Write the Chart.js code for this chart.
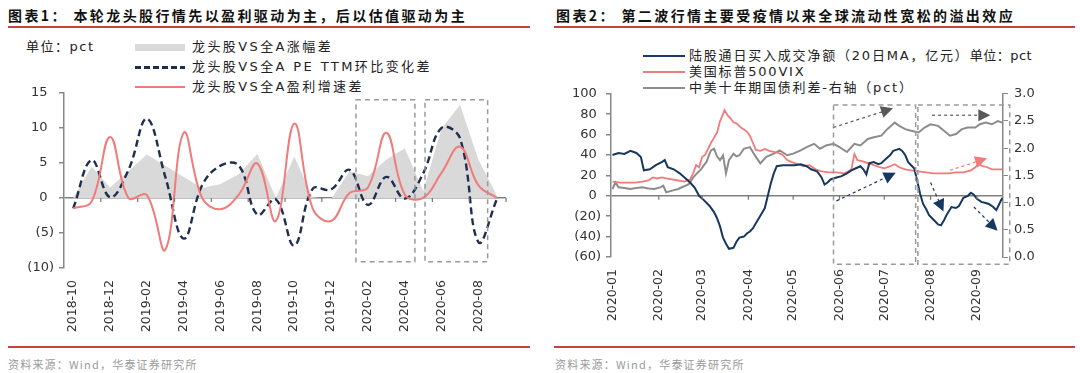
<!DOCTYPE html>
<html>
<head>
<meta charset="utf-8">
<script src="https://cdn.jsdelivr.net/npm/chart.js@4.4.1/dist/chart.umd.min.js"></script>
<style>
  body { margin: 0; width: 1080px; height: 373px; background: #fff; position: relative; overflow: hidden; }
  .t { position: absolute; white-space: nowrap; }
  .title { top: 5px; font-family: "Noto Sans CJK SC"; font-weight: bold; font-size: 14px; letter-spacing: 2.4px; color: #111; }
  .rule { position: absolute; height: 2px; background: #c0443f; }
  .src { top: 356px; font-family: "Noto Sans CJK SC"; font-size: 11px; letter-spacing: 1.2px; color: #9a9a9a; }
  .leg { font-family: "DejaVu Sans", "Noto Sans CJK SC"; font-size: 13px; letter-spacing: 2.4px; color: #222; line-height: 16px; }
  .leg2 { letter-spacing: 1.8px; }
  .sw { position: absolute; }
  canvas { position: absolute; }
</style>
</head>
<body>

<div class="t title" style="left:8px;">图表1：&nbsp;本轮龙头股行情先以盈利驱动为主，后以估值驱动为主</div>
<div class="rule" style="left:8px; width:522px; top:26px;"></div>
<div class="t title" style="left:556px;">图表2：&nbsp;第二波行情主要受疫情以来全球流动性宽松的溢出效应</div>
<div class="rule" style="left:554px; width:521px; top:26px;"></div>

<div class="t leg" style="left:26px; top:39px; letter-spacing:1.5px;">单位：pct</div>
<div class="sw" style="left:135px; top:44px; width:50px; height:7px; background:#d9d9d9;"></div>
<div class="t leg" style="left:192px; top:39px;">龙头股VS全A涨幅差</div>
<div class="sw" style="left:135px; top:66px; width:50px; height:2.5px; background:repeating-linear-gradient(90deg,#1f2d4e 0 6px,transparent 6px 9px);"></div>
<div class="t leg" style="left:192px; top:59px;">龙头股VS全A PE TTM环比变化差</div>
<div class="sw" style="left:135px; top:86px; width:50px; height:2px; background:#f07b7b;"></div>
<div class="t leg" style="left:192px; top:79px;">龙头股VS全A盈利增速差</div>

<div class="sw" style="left:643px; top:55px; width:42px; height:2px; background:#1a3a6b;"></div>
<div class="t leg leg2" style="left:689px; top:48px;">陆股通日买入成交净额（20日MA，亿元）<span style="letter-spacing:0.5px;">单位：pct</span></div>
<div class="sw" style="left:643px; top:71px; width:42px; height:2px; background:#f07b7b;"></div>
<div class="t leg leg2" style="left:689px; top:64px;">美国标普500VIX</div>
<div class="sw" style="left:643px; top:87px; width:42px; height:2px; background:#8c8c8c;"></div>
<div class="t leg leg2" style="left:689px; top:80px;">中美十年期国债利差-右轴（pct）</div>

<canvas id="left" style="left:0px; top:80px; width:516px; height:258px;"></canvas>
<canvas id="right" style="left:540px; top:80px; width:503px; height:247px;"></canvas>

<div class="rule" style="left:8px; width:522px; top:346px;"></div>
<div class="rule" style="left:554px; width:521px; top:346px;"></div>
<div class="t src" style="left:8px;">资料来源：Wind，华泰证券研究所</div>
<div class="t src" style="left:555px;">资料来源：Wind，华泰证券研究所</div>

<script>
// ---- chart 1: monthly, 2018-10 .. 2020-09
const months = ['2018-10','2018-11','2018-12','2019-01','2019-02','2019-03','2019-04','2019-05',
  '2019-06','2019-07','2019-08','2019-09','2019-10','2019-11','2019-12','2020-01','2020-02','2020-03',
  '2020-04','2020-05','2020-06','2020-07','2020-08','2020-09'];
const gainDiff = [0, 4.5, 1.5, 3.8, 6.2, 4.6, 3.0, 1.4, 2.0, 3.4, 6.3, 0, 5.9, 0.1, -0.2, 3.8, 3.1, 5.5, 7.1, 1.0, 9.9, 13.3, 5.5, 0.3];
const peDiff = [-1.5, 5.4, 0.1, 4.0, 11.3, 3.0, -5.8, 1.8, 4.6, 4.6, -2.4, -0.2, -6.8, 1.3, 1.2, 4.0, -1.0, 3.0, -0.1, 3.5, 10.0, 8.5, -6.3, -0.2];
const earnDiff = [-1.5, -0.5, 8.7, 0, 0.4, -7.4, 9.3, 0, -1.6, 0.5, 4.9, -3.3, 10.6, -1.5, -3.3, 0.7, 1.5, 9.3, 0.5, 0.0, 3.6, 7.3, 1.8, 0];

// ---- chart 2: day of 2020 -> value
const monthStarts = [0, 31, 60, 91, 121, 152, 182, 213, 244];
const monthLabels = ['2020-01','2020-02','2020-03','2020-04','2020-05','2020-06','2020-07','2020-08','2020-09'];

const flowDays = [0,4,8,12,16,19,21,25,29,33,35,37,41,45,49,52,55,58,61,65,68,70,72,74,76,78,81,83,85,88,90,92,94,96,98,100,102,104,106,108,110,114,118,122,126,130,133,137,140,142,144,146,150,153,157,160,163,166,168,170,172,175,178,180,183,186,188,190,192,194,196,198,200,202,204,206,208,210,212,214,216,218,220,222,224,227,230,232,235,238,240,242,244,247,250,252,255,257,259,261];
const flowVals = [40,42,41,44,42,38,25,26,30,33,35,28,26,22,17,13,8,0,-4,-10,-16,-22,-30,-41,-47,-52,-51,-45,-41,-40,-37,-35,-32,-27,-22,-17,-12,0,12,22,29,30,30,30,31,29,26,24,18,11,13,16,18,19,22,25,27,29,26,21,32,33,31,32,36,40,44,45,46,44,40,33,30,27,15,2,-8,-13,-19,-22,-25,-28,-29,-24,-18,-11,-12,-10,-2,0,3,1,-3,-6,-7,-8,-11,-14,-8,-2];

const vixDays = [0,5,10,15,20,24,27,30,33,36,40,44,48,52,54,56,58,60,62,64,66,68,70,72,74,75,77,79,81,83,86,88,90,92,94,96,99,102,105,108,111,114,117,120,124,128,132,136,140,145,150,155,158,160,162,164,167,171,175,179,182,186,189,192,196,200,205,210,215,220,225,230,235,240,243,245,248,251,254,258,261];
const vixVals = [14,13,13,13,14,15,18,17,18,17,16,15,14,16,22,30,28,38,40,46,52,57,62,73,80,84,79,76,72,71,67,65,63,59,52,45,44,46,44,43,42,40,35,33,31,29,30,26,24,23,23,22,24,26,41,35,34,32,30,28,27,29,31,28,26,25,24,23,22,22,22,23,23,25,28,31,29,28,26,26,26];

const spreadDays = [0,2,4,8,12,16,20,24,28,32,34,36,40,44,48,51,54,57,59,61,63,65,66,68,70,72,74,76,78,81,83,85,88,92,96,99,103,108,112,117,121,126,130,135,139,143,148,152,157,162,166,171,175,180,184,187,189,192,196,200,205,209,213,218,222,226,230,234,238,243,246,250,254,258,261];
const spreadVals = [1.25,1.37,1.28,1.27,1.25,1.27,1.28,1.26,1.25,1.28,1.31,1.19,1.22,1.25,1.30,1.34,1.46,1.55,1.60,1.68,1.75,1.90,1.96,1.99,1.85,1.78,1.87,1.54,1.78,1.90,1.85,1.87,1.99,2.02,1.84,1.72,1.84,1.90,1.96,1.87,1.90,1.96,2.02,2.08,1.99,2.05,2.08,2.02,1.93,2.08,2.05,2.17,2.20,2.23,2.35,2.42,2.47,2.41,2.35,2.32,2.29,2.38,2.44,2.41,2.32,2.23,2.26,2.35,2.38,2.38,2.44,2.47,2.44,2.50,2.47];

const pairs = (xs, ys) => xs.map((x, i) => ({ x: x, y: ys[i] }));
// accounting style: negatives in brackets, positives padded so digits line up
const paren = v => v < 0 ? '(' + (-v) + ')' : v + '\u2002';

Chart.defaults.font.family = '"DejaVu Sans", "Liberation Sans", sans-serif';
Chart.defaults.font.size = 13;
Chart.defaults.color = '#333';
Chart.defaults.animation = false;

function dashedBox(ctx, x1, y1, x2, y2) {
  ctx.save();
  ctx.strokeStyle = '#9a9a9a';
  ctx.lineWidth = 1.5;
  ctx.setLineDash([5, 4]);
  ctx.strokeRect(x1, y1, x2 - x1, y2 - y1);
  ctx.restore();
}

function arrow(ctx, x1, y1, x2, y2, color) {
  const a = Math.atan2(y2 - y1, x2 - x1);
  ctx.save();
  ctx.strokeStyle = color;
  ctx.fillStyle = color;
  ctx.lineWidth = 1.2;
  ctx.setLineDash([3, 3]);
  ctx.beginPath(); ctx.moveTo(x1, y1); ctx.lineTo(x2, y2); ctx.stroke();
  ctx.setLineDash([]);
  ctx.translate(x2, y2); ctx.rotate(a);
  ctx.beginPath(); ctx.moveTo(6, 0); ctx.lineTo(-6, -6); ctx.lineTo(-6, 6); ctx.closePath(); ctx.fill();
  ctx.restore();
}

// ticks hanging from the zero line + highlight boxes
const leftDeco = {
  id: 'leftDeco',
  afterDatasetsDraw(chart) {
    const { ctx, scales: { x, y } } = chart;
    const y0 = y.getPixelForValue(0);
    const half = (x.getPixelForValue(1) - x.getPixelForValue(0)) / 2;
    ctx.save();
    ctx.strokeStyle = '#777';
    ctx.lineWidth = 1.2;
    for (let i = 2; i <= months.length; i += 2) {
      const px = x.getPixelForValue(i) - half;
      ctx.beginPath(); ctx.moveTo(px, y0); ctx.lineTo(px, y0 + 4); ctx.stroke();
    }
    ctx.restore();
    dashedBox(ctx, x.getPixelForValue(15.35), y.getPixelForValue(14), x.getPixelForValue(18.55), y.getPixelForValue(-9.1));
    dashedBox(ctx, x.getPixelForValue(19.1), y.getPixelForValue(14), x.getPixelForValue(22.5), y.getPixelForValue(-9.1));
  }
};

const rightDeco = {
  id: 'rightDeco',
  afterDatasetsDraw(chart) {
    const { ctx, scales: { x, y } } = chart;
    const y0 = y.getPixelForValue(0);
    ctx.save();
    ctx.strokeStyle = '#777';
    ctx.lineWidth = 1.2;
    monthStarts.slice(1).forEach(d => {
      const px = x.getPixelForValue(d);
      ctx.beginPath(); ctx.moveTo(px, y0); ctx.lineTo(px, y0 + 4); ctx.stroke();
    });
    ctx.restore();
    dashedBox(ctx, x.getPixelForValue(148), y.getPixelForValue(89), x.getPixelForValue(203), y.getPixelForValue(-67));
    dashedBox(ctx, x.getPixelForValue(204.5), y.getPixelForValue(89), x.getPixelForValue(266), y.getPixelForValue(-67));
    const P = (d, v) => [x.getPixelForValue(d), y.getPixelForValue(v)];
    const seg = (a, b, c) => arrow(ctx, ...P(a[0], a[1]), ...P(b[0], b[1]), c);
    seg([148, 67], [184, 84], '#595959');
    seg([214, 79], [249, 79], '#595959');
    seg([150, -5], [186, 20], '#17375e');
    seg([213, 13], [220, -10], '#17375e');
    seg([242, -11], [255, -30], '#17375e');
    seg([226, 25], [247, 35], '#f07b7b');
  }
};

new Chart(document.getElementById('left'), {
  type: 'line',
  data: {
    labels: months,
    datasets: [
      { label: '龙头股VS全A盈利增速差', data: earnDiff, borderColor: '#f07b7b', borderWidth: 2, pointRadius: 0, tension: 0.4, order: 1 },
      { label: '龙头股VS全A PE TTM环比变化差', data: peDiff, borderColor: '#1f2d4e', borderWidth: 2.4, borderDash: [7, 4], pointRadius: 0, tension: 0.4, order: 2 },
      { label: '龙头股VS全A涨幅差', data: gainDiff, borderWidth: 0, backgroundColor: '#d9d9d9', fill: 'origin', pointRadius: 0, tension: 0, order: 3 }
    ]
  },
  options: {
    responsive: false,
    layout: { padding: { top: 9, right: 7, bottom: 0, left: 0 } },
    plugins: { legend: { display: false }, tooltip: { enabled: false } },
    scales: {
      x: {
        offset: true,
        grid: { display: false },
        border: { display: false },
        ticks: {
          autoSkip: false, minRotation: 90, maxRotation: 90, font: { size: 12.5 }, padding: 4,
          callback: function (v, i) { return i % 2 === 0 ? months[i] : ''; }
        },
        afterFit: s => { s.height = 70; }
      },
      y: {
        min: -10, max: 15,
        ticks: { stepSize: 5, padding: 5, callback: paren },
        grid: { color: c => c.tick && c.tick.value === 0 ? '#7f7f7f' : 'transparent', lineWidth: 1.5, tickColor: '#888', tickLength: 5 },
        border: { color: '#888', width: 1.5 },
        afterFit: s => { s.width = 64; }
      }
    }
  },
  plugins: [leftDeco]
});

new Chart(document.getElementById('right'), {
  type: 'line',
  data: {
    datasets: [
      { label: '陆股通日买入成交净额（20日MA，亿元）', data: pairs(flowDays, flowVals), borderColor: '#17375e', borderWidth: 2, pointRadius: 0, yAxisID: 'y' },
      { label: '美国标普500VIX', data: pairs(vixDays, vixVals), borderColor: '#f07b7b', borderWidth: 1.8, pointRadius: 0, yAxisID: 'y' },
      { label: '中美十年期国债利差-右轴（pct）', data: pairs(spreadDays, spreadVals), borderColor: '#8c8c8c', borderWidth: 2, pointRadius: 0, yAxisID: 'y1' }
    ]
  },
  options: {
    responsive: false,
    layout: { padding: { top: 8, right: 0, bottom: 0, left: 0 } },
    plugins: { legend: { display: false }, tooltip: { enabled: false } },
    scales: {
      x: {
        type: 'linear', min: -1, max: 261.5,
        grid: { display: false },
        border: { display: false },
        afterBuildTicks: s => { s.ticks = monthStarts.map(v => ({ value: v })); },
        ticks: {
          autoSkip: false, minRotation: 90, maxRotation: 90, font: { size: 12.5 }, padding: 4,
          callback: v => monthLabels[monthStarts.indexOf(v)]
        },
        afterFit: s => { s.height = 70; }
      },
      y: {
        position: 'left', min: -60, max: 100,
        ticks: { stepSize: 20, padding: 5, callback: v => v < 0 ? '(' + (-v) + ')' : v + ' ' },
        grid: { color: c => c.tick && c.tick.value === 0 ? '#7f7f7f' : 'transparent', lineWidth: 1.5, tickColor: '#888', tickLength: 5 },
        border: { color: '#888', width: 1.5 },
        afterFit: s => { s.width = 71; }
      },
      y1: {
        position: 'right', min: 0, max: 3,
        ticks: { stepSize: 0.5, padding: 6, callback: v => v.toFixed(1) },
        grid: { drawOnChartArea: false, color: '#888', tickLength: 5 },
        border: { color: '#888', width: 1.5 },
        afterFit: s => { s.width = 40; }
      }
    }
  },
  plugins: [rightDeco]
});
</script>
</body>
</html>
